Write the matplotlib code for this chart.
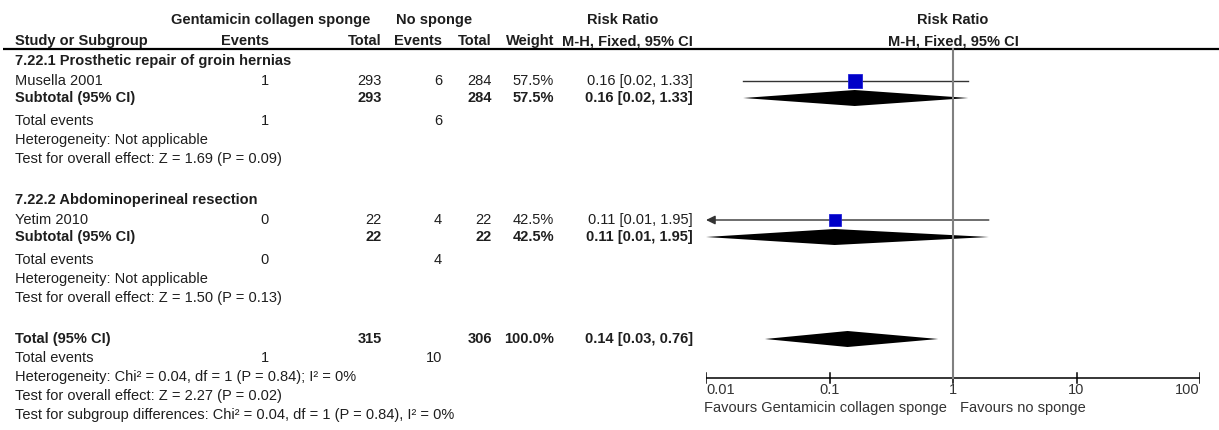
import matplotlib
matplotlib.use("Agg")
import matplotlib.pyplot as plt
import numpy as np

plt.rcParams['font.family'] = ['Liberation Sans', 'DejaVu Sans']

# ---------------- data ----------------
subgroups = ["7.22.1 Prosthetic repair of groin hernias", "7.22.2 Abdominoperineal resection"]
studies = ["Musella 2001", "Yetim 2010"]
events_t = [1, 0]
total_t = [293, 22]
events_c = [6, 4]
total_c = [284, 22]
weights = [57.5, 42.5]
rr = [0.16, 0.11]
ci_lo = [0.02, 0.01]
ci_hi = [1.33, 1.95]
heterogeneity = ["Heterogeneity: Not applicable", "Heterogeneity: Not applicable"]
overall_tests = ["Test for overall effect: Z = 1.69 (P = 0.09)",
                 "Test for overall effect: Z = 1.50 (P = 0.13)"]

tot_events_t = 1
tot_events_c = 10
tot_total_t = 315
tot_total_c = 306
tot_weight = 100.0
tot_rr = 0.14
tot_lo = 0.03
tot_hi = 0.76
tot_het = "Heterogeneity: Chi\u00b2 = 0.04, df = 1 (P = 0.84); I\u00b2 = 0%"
tot_test = "Test for overall effect: Z = 2.27 (P = 0.02)"
subgroup_test = "Test for subgroup differences: Chi\u00b2 = 0.04, df = 1 (P = 0.84), I\u00b2 = 0%"

ticks = [0.01, 0.1, 1, 10, 100]
tick_labels = ["0.01", "0.1", "1", "10", "100"]
favours_left = "Favours Gentamicin collagen sponge"
favours_right = "Favours no sponge"

# ---------------- layout ----------------
W, H = 1219, 430
FS = 10.5
TXT = '#1e1e1e'
fig = plt.figure(figsize=(W / 100, H / 100), dpi=100)
ax = fig.add_axes([0, 0, 1, 1])
ax.set_xlim(0, W)
ax.set_ylim(H, 0)
ax.axis('off')

X0, X1 = 706, 1200
fx = fig.add_axes([X0 / W, 0, (X1 - X0) / W, 1])
fx.set_xscale('log')
fx.set_xlim(ticks[0], ticks[-1])
fx.set_ylim(H, 0)
fx.axis('off')
fx.patch.set_alpha(0)


def t(x, y, s, ha='left', bold=False, axes=ax, color=TXT):
    axes.text(x, y, s, ha=ha, va='center', fontsize=FS,
              fontweight='bold' if bold else 'normal', color=color)


C_NAME, C_ET, C_TT, C_EC, C_TC, C_W, C_CI = 15, 269, 382, 442, 492, 554, 693

# headers
t(271, 20, "Gentamicin collagen sponge", 'center', True)
t(434, 20, "No sponge", 'center', True)
t(623, 20, "Risk Ratio", 'center', True)
t(C_NAME, 41, "Study or Subgroup", 'left', True)
t(C_ET, 41, "Events", 'right', True)
t(C_TT, 41, "Total", 'right', True)
t(C_EC, 41, "Events", 'right', True)
t(C_TC, 41, "Total", 'right', True)
t(C_W, 41, "Weight", 'right', True)
t(C_CI, 41, "M-H, Fixed, 95% CI", 'right', True)
t(1, 20, "Risk Ratio", 'center', True, axes=fx)
t(1, 41, "M-H, Fixed, 95% CI", 'center', True, axes=fx)
ax.plot([3, W], [49, 49], color='black', lw=1.6, solid_capstyle='butt')

AXIS_Y = 378
fx.plot([1, 1], [49, AXIS_Y], color='#808080', lw=1.5, zorder=5)

SQ_K = 1.846  # px per sqrt(weight)


def ci_text(r, lo, hi):
    return f"{r:.2f} [{lo:.2f}, {hi:.2f}]"


sec_top = [61, 200]
for i in range(len(studies)):
    h = sec_top[i]
    t(C_NAME, h, subgroups[i], 'left', True)
    y = h + 20
    t(C_NAME, y, studies[i])
    t(C_ET, y, str(events_t[i]), 'right')
    t(C_TT, y, str(total_t[i]), 'right')
    t(C_EC, y, str(events_c[i]), 'right')
    t(C_TC, y, str(total_c[i]), 'right')
    t(C_W, y, f"{weights[i]:.1f}%", 'right')
    t(C_CI, y, ci_text(rr[i], ci_lo[i], ci_hi[i]), 'right')
    # CI line
    lo = max(ci_lo[i], ticks[0])
    if ci_lo[i] <= ticks[0]:
        fx.annotate('', xy=(ticks[0], y), xytext=(ci_hi[i], y),
                    arrowprops=dict(arrowstyle='-|>,head_length=0.45,head_width=0.22',
                                    color='#333333', lw=1.0, shrinkA=0, shrinkB=0,
                                    mutation_scale=12))
    else:
        fx.plot([lo, ci_hi[i]], [y, y], color='#333333', lw=1.0)
    ms = SQ_K * np.sqrt(weights[i]) * 0.72
    fx.plot(rr[i], y, marker='s', ms=ms, color='#0000C8', mec='#2020D8', mew=0.6, zorder=6)

    ys = h + 37
    t(C_NAME, ys, "Subtotal (95% CI)", 'left', True)
    t(C_TT, ys, str(total_t[i]), 'right', True)
    t(C_TC, ys, str(total_c[i]), 'right', True)
    t(C_W, ys, f"{weights[i]:.1f}%", 'right', True)
    t(C_CI, ys, ci_text(rr[i], ci_lo[i], ci_hi[i]), 'right', True)
    fx.fill([lo, rr[i], ci_hi[i], rr[i]], [ys, ys - 8, ys, ys + 8], color='black', lw=0, zorder=4)

    t(C_NAME, h + 60, "Total events")
    t(C_ET, h + 60, str(events_t[i]), 'right')
    t(C_EC, h + 60, str(events_c[i]), 'right')
    t(C_NAME, h + 79, heterogeneity[i])
    t(C_NAME, h + 98, overall_tests[i])

# overall
yt = 339
t(C_NAME, yt, "Total (95% CI)", 'left', True)
t(C_TT, yt, str(tot_total_t), 'right', True)
t(C_TC, yt, str(tot_total_c), 'right', True)
t(C_W, yt, f"{tot_weight:.1f}%", 'right', True)
t(C_CI, yt, ci_text(tot_rr, tot_lo, tot_hi), 'right', True)
fx.fill([tot_lo, tot_rr, tot_hi, tot_rr], [yt, yt - 8, yt, yt + 8], color='black', lw=0, zorder=4)
t(C_NAME, 358, "Total events")
t(C_ET, 358, str(tot_events_t), 'right')
t(C_EC, 358, str(tot_events_c), 'right')
t(C_NAME, 377, tot_het)
t(C_NAME, 396, tot_test)
t(C_NAME, 415, subgroup_test)

# axis
fx.plot([ticks[0], ticks[-1]], [AXIS_Y, AXIS_Y], color='black', lw=1.1)
for k, (tv, tl) in enumerate(zip(ticks, tick_labels)):
    fx.plot([tv, tv], [AXIS_Y - 5, AXIS_Y + 5], color='black', lw=1.1)
    ha = 'left' if k == 0 else ('right' if k == len(ticks) - 1 else 'center')
    t(tv, 390, tl, ha, axes=fx, color='#333333')
t(947, 408, favours_left, 'right', color='#333333')
t(960, 408, favours_right, 'left', color='#333333')

fig.savefig('out.png', dpi=100)
